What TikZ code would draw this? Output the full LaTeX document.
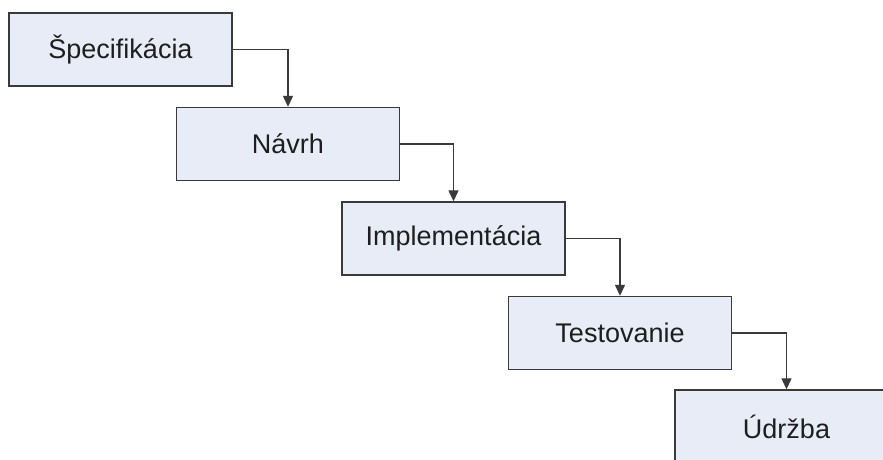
\documentclass[tikz,border=0pt]{standalone}
\usepackage{fontspec}
\setmainfont{Liberation Sans}
\usetikzlibrary{arrows.meta}
\definecolor{boxfill}{HTML}{E8ECF6}
\definecolor{boxline}{HTML}{3A3A3A}
\definecolor{txt}{HTML}{1E1E1E}
\begin{document}
\begin{tikzpicture}[x=1pt,y=-1pt,
  phase/.style={draw=boxline, line width=1.4pt, fill=boxfill,
    minimum width=223pt, minimum height=73pt, inner sep=0pt,
    text=txt, font=\fontsize{27}{32}\selectfont},
  flow/.style={draw=boxline, line width=1.3pt,
    -{Triangle[width=10pt,length=11pt]}}]
\path[use as bounding box, clip] (0,0) rectangle (883,459);
\fill[white] (0,0) rectangle (883,459);

\node[phase] (spec) at (120.5,49.5)  {Špecifikácia};
\node[phase] (navrh) at (288,144)    {Návrh};
\node[phase] (impl) at (453.5,238.5) {Implementácia};
\node[phase] (test) at (620,333)     {Testovanie};
\node[phase] (udrz) at (786.5,426.5) {Údržba};

\draw[flow] (spec.east) -| (navrh.north);
\draw[flow] (navrh.east) -| (impl.north);
\draw[flow] (impl.east) -| (test.north);
\draw[flow] (test.east) -| (udrz.north);
\end{tikzpicture}
\end{document}
